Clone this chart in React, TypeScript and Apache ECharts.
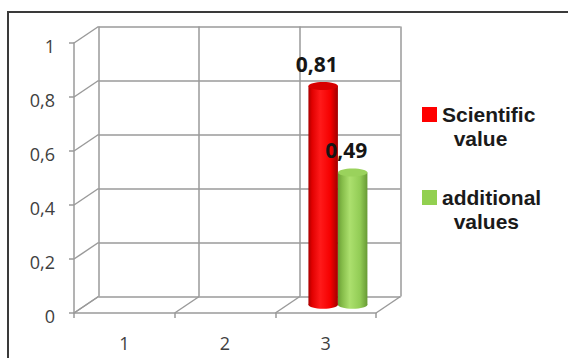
import { useEffect, useRef } from "react";
import * as echarts from "echarts";

// Chart data
const categories = ["1", "2", "3"];
const scientificValue: (number | null)[] = [null, null, 0.81];
const additionalValues: (number | null)[] = [null, null, 0.49];
const seriesNames = ["Scientific value", "additional values"];
const legendLines: Record<string, string> = {
  "Scientific value": "\nScientific\n\u00a0\u00a0value",
  "additional values": "\nadditional\n\u00a0\u00a0values",
};
const yTicks = [0, 0.2, 0.4, 0.6, 0.8, 1];

// Pseudo-3D depth offset of the back wall (pixels)
const DEPTH_X = 24.5;
const DEPTH_Y = -16.5;
const GRID_LINE = "#9a9a9a";
const GRID_W = 1.5;
const FONT = "'Open Sans', 'Liberation Sans', sans-serif";
const LEGEND_FONT = "'Liberation Sans', Arial, sans-serif";
const LEGEND_LH = 24;

const fmt = (v: number) => String(Math.round(v * 100) / 100).replace(".", ",");

const cylinderStyles = [
  {
    body: [
      [0, "#a80000"],
      [0.12, "#e00000"],
      [0.4, "#ff1a1a"],
      [0.75, "#f50000"],
      [1, "#a00000"],
    ],
    top: "#d80000",
  },
  {
    body: [
      [0, "#6a9e36"],
      [0.15, "#86bd4a"],
      [0.4, "#ace06e"],
      [0.75, "#92cc55"],
      [1, "#679a34"],
    ],
    top: "#9ad25c",
  },
];

function cylinderRenderer(seriesIdx: number) {
  const st = cylinderStyles[seriesIdx];
  return (params: any, api: any) => {
    const v = api.value(1);
    if (v == null || isNaN(v)) return null;
    const cat = api.value(0);
    const band = api.size([1, 0])[0];
    const w = band * 0.293;
    const top = api.coord([cat, v]);
    const base = api.coord([cat, 0]);
    const cx = top[0] + DEPTH_X / 2 + (seriesIdx === 0 ? -w / 2 : w / 2);
    const yTop = top[1] + DEPTH_Y / 2;
    const yBase = base[1] + DEPTH_Y / 2;
    const ry = 4;
    const grad = new echarts.graphic.LinearGradient(
      0,
      0,
      1,
      0,
      st.body.map(([o, c]) => ({ offset: o as number, color: c as string }))
    );
    return {
      type: "group",
      children: [
        { type: "ellipse", shape: { cx, cy: yBase, rx: w / 2, ry }, style: { fill: grad } },
        {
          type: "rect",
          shape: { x: cx - w / 2, y: yTop, width: w, height: yBase - yTop },
          style: { fill: grad },
        },
        { type: "ellipse", shape: { cx, cy: yTop, rx: w / 2, ry }, style: { fill: st.top } },
        {
          type: "text",
          z2: 100,
          style: {
            text: fmt(v),
            x: cx - 6.5,
            y: yTop - 22,
            align: "center",
            verticalAlign: "middle",
            font: `bold 21px ${FONT}`,
            fill: "#151515",
          },
        },
      ],
    };
  };
}

export default function App() {
  const ref = useRef<HTMLDivElement>(null);

  useEffect(() => {
    if (!ref.current) return;
    const chart = echarts.init(ref.current, undefined, { renderer: "svg" });
    const option: any = {
      animation: false,
      backgroundColor: "#ffffff",
      color: ["#ff0000", "#92d050"],
      graphic: [
        {
          type: "rect",
          silent: true,
          shape: { x: 8, y: 12, width: 600, height: 400 },
          style: { fill: "none", stroke: "#3a3a3a", lineWidth: 2 },
        },
      ],
      legend: {
        orient: "vertical",
        left: 422,
        top: 107 - (1.5 * LEGEND_LH - 7.5),
        padding: 0,
        itemWidth: 15,
        itemHeight: 15,
        itemGap: 83 - 3 * LEGEND_LH,
        icon: "rect",
        data: seriesNames,
        formatter: (name: string) => legendLines[name] ?? name,
        textStyle: {
          fontFamily: LEGEND_FONT,
          fontWeight: "bold",
          fontSize: 21,
          lineHeight: LEGEND_LH,
          color: "#1a1a1a",
        },
      },
      grid: [
        { left: 74, top: 43, width: 302, height: 270 },
        { left: 74 + DEPTH_X, top: 43 + DEPTH_Y, width: 302, height: 270 },
      ],
      xAxis: [
        {
          type: "category",
          gridIndex: 0,
          data: categories,
          axisLine: { show: true, lineStyle: { color: GRID_LINE, width: GRID_W } },
          axisTick: { show: true, length: 5, lineStyle: { color: GRID_LINE, width: GRID_W } },
          axisLabel: { margin: 21, fontFamily: FONT, fontSize: 18, color: "#404040" },
          splitLine: { show: false },
        },
        {
          type: "category",
          gridIndex: 1,
          data: categories,
          axisLine: { show: false },
          axisTick: { show: false },
          axisLabel: { show: false },
          splitLine: { show: true, lineStyle: { color: GRID_LINE, width: GRID_W } },
        },
      ],
      yAxis: [
        {
          type: "value",
          gridIndex: 0,
          min: 0,
          max: 1,
          interval: 0.2,
          axisLine: { show: true, lineStyle: { color: GRID_LINE, width: GRID_W } },
          axisTick: { show: true, length: 5, lineStyle: { color: GRID_LINE, width: GRID_W } },
          axisLabel: {
            margin: 19,
            fontFamily: FONT,
            fontSize: 18,
            color: "#404040",
            verticalAlign: "top",
            lineHeight: 6,
            formatter: (v: number) => fmt(v),
          },
          splitLine: { show: false },
        },
        {
          type: "value",
          gridIndex: 1,
          min: 0,
          max: 1,
          interval: 0.2,
          axisLine: { show: false },
          axisTick: { show: false },
          axisLabel: { show: false },
          splitLine: { show: true, lineStyle: { color: GRID_LINE, width: GRID_W } },
        },
      ],
      series: [
        // side wall: connects each front tick to the back wall
        {
          type: "custom",
          xAxisIndex: 0,
          yAxisIndex: 0,
          silent: true,
          z: 1,
          data: yTicks.map((v) => [0, v]),
          renderItem: (params: any, api: any) => {
            const cs = params.coordSys;
            const y = api.coord([0, api.value(1)])[1];
            return {
              type: "line",
              shape: { x1: cs.x, y1: y, x2: cs.x + DEPTH_X, y2: y + DEPTH_Y },
              style: { stroke: GRID_LINE, lineWidth: GRID_W },
            };
          },
        },
        // floor: connects each category boundary to the back wall
        {
          type: "custom",
          xAxisIndex: 0,
          yAxisIndex: 0,
          silent: true,
          z: 1,
          data: Array.from({ length: categories.length + 1 }, (_, i) => [i, 0]),
          renderItem: (params: any, api: any) => {
            const cs = params.coordSys;
            const band = cs.width / categories.length;
            const x = cs.x + api.value(0) * band;
            const y = cs.y + cs.height;
            return {
              type: "line",
              shape: { x1: x, y1: y, x2: x + DEPTH_X, y2: y + DEPTH_Y },
              style: { stroke: GRID_LINE, lineWidth: GRID_W },
            };
          },
        },
        {
          name: seriesNames[0],
          type: "custom",
          xAxisIndex: 0,
          yAxisIndex: 0,
          z: 3,
          data: scientificValue.map((v, i) => [i, v]),
          renderItem: cylinderRenderer(0),
        },
        {
          name: seriesNames[1],
          type: "custom",
          xAxisIndex: 0,
          yAxisIndex: 0,
          z: 4,
          data: additionalValues.map((v, i) => [i, v]),
          renderItem: cylinderRenderer(1),
        },
      ],
    };
    chart.setOption(option);
    return () => chart.dispose();
  }, []);

  return (
    <div
      ref={ref}
      style={{ position: "absolute", left: 0, top: 0, width: 568, height: 358 }}
    />
  );
}
